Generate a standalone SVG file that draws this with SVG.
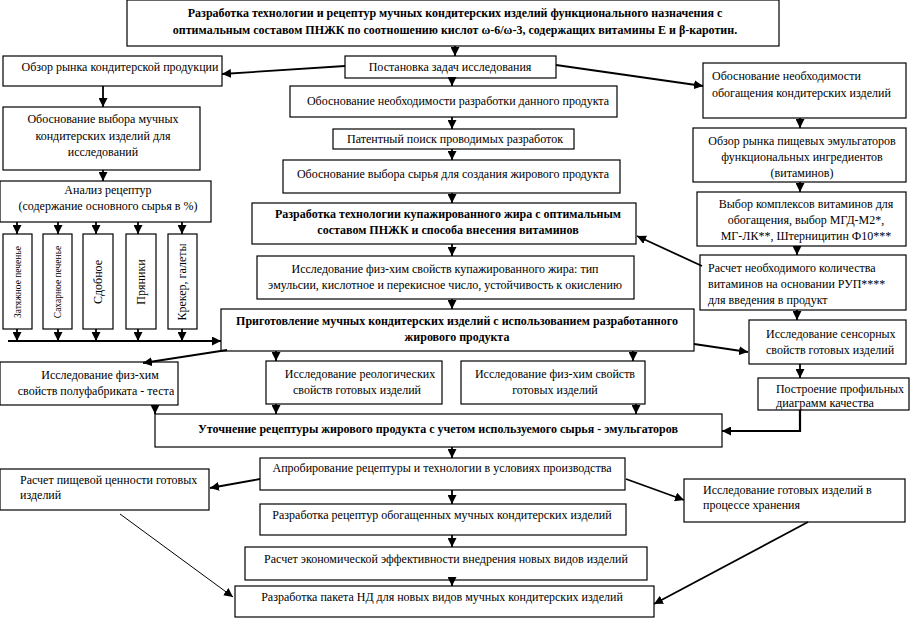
<svg xmlns="http://www.w3.org/2000/svg" width="915" height="620" viewBox="0 0 915 620">
<defs>
<marker id="ah" viewBox="0 0 10 10" refX="10" refY="5" markerWidth="9" markerHeight="9" markerUnits="userSpaceOnUse" orient="auto">
<path d="M0,0 L10,5 L0,10 z" fill="#000"/>
</marker>
<style>
.box{fill:#fff;stroke:#000;stroke-width:1.2}
.con line,.con polyline{stroke:#000;stroke-width:1.8;fill:none;marker-end:url(#ah)}
</style>
</defs>
<rect x="0" y="0" width="915" height="620" fill="#fff"/>
<g id="n-title"><rect class="box" x="127" y="0" width="652" height="46"/>
<text text-anchor="middle" font-weight="bold" font-family="Liberation Serif, serif" font-size="12" x="455" y="17">Разработка технологии и рецептур мучных кондитерских изделий функционального  назначения с</text>
<text text-anchor="middle" font-weight="bold" font-family="Liberation Serif, serif" font-size="12" x="455" y="34">оптимальным составом ПНЖК по соотношению кислот ω-6/ω-3, содержащих витамины Е и β-каротин.</text></g>

<g id="n-task"><rect class="box" x="345" y="56" width="211" height="22"/>
<text text-anchor="middle" font-family="Liberation Serif, serif" font-size="12" x="450" y="71">Постановка задач исследования</text></g>

<g id="n-market"><rect class="box" x="3" y="56" width="219" height="30"/>
<text text-anchor="middle" font-family="Liberation Serif, serif" font-size="12" x="120" y="71">Обзор рынка кондитерской продукции</text></g>

<g id="n-choice"><rect class="box" x="3" y="107" width="197" height="63"/>
<text text-anchor="middle" font-family="Liberation Serif, serif" font-size="12" x="103" y="123">Обоснование  выбора мучных</text>
<text text-anchor="middle" font-family="Liberation Serif, serif" font-size="12" x="103" y="140">кондитерских изделий для</text>
<text text-anchor="middle" font-family="Liberation Serif, serif" font-size="12" x="103" y="156">исследований</text></g>

<g id="n-analysis"><rect class="box" x="0" y="181" width="211" height="41"/>
<text text-anchor="middle" font-family="Liberation Serif, serif" font-size="12" x="108" y="194">Анализ рецептур</text>
<text text-anchor="middle" font-family="Liberation Serif, serif" font-size="12" x="108" y="210">(содержание основного сырья в %)</text></g>

<g id="n-v1"><rect class="box" x="3" y="234" width="29" height="95"/>
<text text-anchor="middle" font-family="Liberation Serif, serif" font-size="9.5" transform="translate(21,282) rotate(-90)">Затяжное печенье</text></g>
<g id="n-v2"><rect class="box" x="43" y="234" width="29" height="95"/>
<text text-anchor="middle" font-family="Liberation Serif, serif" font-size="9.5" transform="translate(61,282) rotate(-90)">Сахарное печенье</text></g>
<g id="n-v3"><rect class="box" x="83" y="234" width="30" height="95"/>
<text text-anchor="middle" font-family="Liberation Serif, serif" font-size="12" transform="translate(102,282) rotate(-90)">Сдобное</text></g>
<g id="n-v4"><rect class="box" x="126" y="234" width="30" height="95"/>
<text text-anchor="middle" font-family="Liberation Serif, serif" font-size="12" transform="translate(145,282) rotate(-90)">Пряники</text></g>
<g id="n-v5"><rect class="box" x="168" y="234" width="29" height="95"/>
<text text-anchor="middle" font-family="Liberation Serif, serif" font-size="12" transform="translate(186,282) rotate(-90)">Крекер, галеты</text></g>

<g id="n-enrich"><rect class="box" x="703" y="63" width="203" height="55"/>
<text font-family="Liberation Serif, serif" font-size="12" x="712" y="80">Обоснование необходимости</text>
<text font-family="Liberation Serif, serif" font-size="12" x="712" y="97">обогащения кондитерских изделий</text></g>

<g id="n-emul"><rect class="box" x="693" y="128" width="213" height="54"/>
<text text-anchor="middle" font-family="Liberation Serif, serif" font-size="12" x="802" y="145">Обзор рынка пищевых эмульгаторов</text>
<text text-anchor="middle" font-family="Liberation Serif, serif" font-size="12" x="802" y="161">функциональных ингредиентов</text>
<text text-anchor="middle" font-family="Liberation Serif, serif" font-size="12" x="802" y="177">(витаминов)</text></g>

<g id="n-vitsel"><rect class="box" x="697" y="192" width="209" height="54"/>
<text text-anchor="middle" font-family="Liberation Serif, serif" font-size="12" x="806" y="208">Выбор комплексов витаминов для</text>
<text text-anchor="middle" font-family="Liberation Serif, serif" font-size="12" x="806" y="224">обогащения, выбор МГД-М2*,</text>
<text text-anchor="middle" font-family="Liberation Serif, serif" font-size="12" x="806" y="240">МГ-ЛК**, Штерницитин Ф10***</text></g>

<g id="n-calc"><rect class="box" x="700" y="255" width="206" height="55"/>
<text font-family="Liberation Serif, serif" font-size="12" x="708" y="272">Расчет необходимого количества</text>
<text font-family="Liberation Serif, serif" font-size="12" x="708" y="288">витаминов на основании РУП****</text>
<text font-family="Liberation Serif, serif" font-size="12" x="708" y="304">для введения в продукт</text></g>

<g id="n-sensor"><rect class="box" x="749" y="320" width="157" height="44"/>
<text font-family="Liberation Serif, serif" font-size="12" x="766" y="338">Исследование сенсорных</text>
<text font-family="Liberation Serif, serif" font-size="12" x="766" y="354">свойств готовых изделий</text></g>

<g id="n-profile"><rect class="box" x="758" y="378" width="151" height="32"/>
<text font-family="Liberation Serif, serif" font-size="12" x="776" y="393" textLength="128" lengthAdjust="spacingAndGlyphs">Построение профильных</text>
<text font-family="Liberation Serif, serif" font-size="12" x="776" y="407" textLength="98" lengthAdjust="spacingAndGlyphs">диаграмм качества</text></g>

<g id="n-need"><rect class="box" x="290" y="86" width="327" height="31"/>
<text text-anchor="middle" font-family="Liberation Serif, serif" font-size="12" x="458" y="105">Обоснование  необходимости разработки данного продукта</text></g>

<g id="n-patent"><rect class="box" x="333" y="129" width="241" height="20"/>
<text text-anchor="middle" font-family="Liberation Serif, serif" font-size="12" x="455" y="143">Патентный поиск проводимых  разработок</text></g>

<g id="n-raw"><rect class="box" x="283" y="160" width="337" height="33"/>
<text text-anchor="middle" font-family="Liberation Serif, serif" font-size="12" x="453" y="178">Обоснование выбора сырья для создания жирового продукта</text></g>

<g id="n-fattech"><rect class="box" x="252" y="203" width="384" height="41"/>
<text text-anchor="middle" font-weight="bold" font-family="Liberation Serif, serif" font-size="12" x="448" y="218">Разработка технологии купажированного жира с оптимальным</text>
<text text-anchor="middle" font-weight="bold" font-family="Liberation Serif, serif" font-size="12" x="448" y="234">составом ПНЖК  и способа внесения витаминов</text></g>

<g id="n-fatprop"><rect class="box" x="257" y="256" width="377" height="43"/>
<text text-anchor="middle" font-family="Liberation Serif, serif" font-size="12" x="445" y="273">Исследование физ-хим свойств купажированного жира: тип</text>
<text text-anchor="middle" font-family="Liberation Serif, serif" font-size="12" x="445" y="289">эмульсии, кислотное и перекисное число, устойчивость к окислению</text></g>

<g id="n-prep"><rect class="box" x="221" y="309" width="473" height="42"/>
<text text-anchor="middle" font-weight="bold" font-family="Liberation Serif, serif" font-size="12" x="457" y="325">Приготовление мучных кондитерских изделий с использованием разработанного</text>
<text text-anchor="middle" font-weight="bold" font-family="Liberation Serif, serif" font-size="12" x="457" y="341">жирового продукта</text></g>

<g id="n-dough"><rect class="box" x="0" y="362" width="178" height="43"/>
<text text-anchor="middle" font-family="Liberation Serif, serif" font-size="12" x="100" y="379">Исследование физ-хим</text>
<text text-anchor="middle" font-family="Liberation Serif, serif" font-size="12" x="96" y="395">свойств полуфабриката - теста</text></g>

<g id="n-rheo"><rect class="box" x="266" y="361" width="176" height="43"/>
<text text-anchor="middle" font-family="Liberation Serif, serif" font-size="12" x="360" y="378">Исследование реологических</text>
<text text-anchor="middle" font-family="Liberation Serif, serif" font-size="12" x="357" y="394">свойств готовых изделий</text></g>

<g id="n-physchem"><rect class="box" x="461" y="361" width="184" height="43"/>
<text text-anchor="middle" font-family="Liberation Serif, serif" font-size="12" x="555" y="378">Исследование физ-хим свойств</text>
<text text-anchor="middle" font-family="Liberation Serif, serif" font-size="12" x="555" y="394">готовых изделий</text></g>

<g id="n-refine"><rect class="box" x="155" y="414" width="567" height="33"/>
<text text-anchor="middle" font-weight="bold" font-family="Liberation Serif, serif" font-size="12" x="438" y="433">Уточнение рецептуры жирового продукта с  учетом используемого сырья - эмульгаторов</text></g>

<g id="n-approb"><rect class="box" x="260" y="458" width="365" height="32"/>
<text text-anchor="middle" font-family="Liberation Serif, serif" font-size="12" x="442" y="472">Апробирование рецептуры и технологии в условиях производства</text></g>

<g id="n-nutr"><rect class="box" x="0" y="469" width="209" height="41"/>
<text font-family="Liberation Serif, serif" font-size="12" x="20" y="484">Расчет пищевой ценности готовых</text>
<text font-family="Liberation Serif, serif" font-size="12" x="20" y="499">изделий</text></g>

<g id="n-storage"><rect class="box" x="684" y="479" width="221" height="43"/>
<text font-family="Liberation Serif, serif" font-size="12" x="703" y="494">Исследование готовых изделий в</text>
<text font-family="Liberation Serif, serif" font-size="12" x="703" y="509">процессе хранения</text></g>

<g id="n-recipes"><rect class="box" x="260" y="504" width="366" height="31"/>
<text text-anchor="middle" font-family="Liberation Serif, serif" font-size="12" x="442" y="519">Разработка рецептур обогащенных мучных кондитерских изделий</text></g>

<g id="n-econ"><rect class="box" x="245" y="547" width="402" height="33"/>
<text text-anchor="middle" font-family="Liberation Serif, serif" font-size="12" x="446" y="563">Расчет экономической эффективности внедрения новых видов изделий</text></g>

<g id="n-nd"><rect class="box" x="235" y="586" width="419" height="31"/>
<text text-anchor="middle" font-family="Liberation Serif, serif" font-size="12" x="442" y="601">Разработка пакета НД для новых видов мучных кондитерских изделий</text></g>

<g id="connectors" class="con">
<line x1="455" y1="46" x2="455" y2="56"/>
<line x1="345" y1="66" x2="222" y2="74"/>
<line x1="556" y1="65" x2="703" y2="86"/>
<line x1="452" y1="78" x2="452" y2="86"/>
<line x1="452" y1="117" x2="452" y2="129"/>
<line x1="452" y1="149" x2="452" y2="160"/>
<line x1="452" y1="193" x2="452" y2="203"/>
<line x1="452" y1="244" x2="452" y2="256"/>
<line x1="452" y1="299" x2="452" y2="309"/>
<line x1="103" y1="86" x2="103" y2="107"/>
<line x1="103" y1="170" x2="103" y2="181"/>
<line x1="17" y1="222" x2="17" y2="234"/>
<line x1="58" y1="222" x2="58" y2="234"/>
<line x1="96" y1="222" x2="96" y2="234"/>
<line x1="138" y1="222" x2="138" y2="234"/>
<line x1="182" y1="222" x2="182" y2="234"/>
<line x1="17" y1="329" x2="17" y2="341"/>
<line x1="58" y1="329" x2="58" y2="341"/>
<line x1="96" y1="329" x2="96" y2="341"/>
<line x1="138" y1="329" x2="138" y2="341"/>
<line x1="182" y1="329" x2="182" y2="341"/>
<line x1="8" y1="341" x2="221" y2="341" style="stroke-width:2.2"/>
<line x1="800" y1="118" x2="800" y2="128"/>
<line x1="800" y1="182" x2="800" y2="192"/>
<line x1="797" y1="246" x2="797" y2="255"/>
<line x1="702" y1="266" x2="637" y2="236"/>
<line x1="797" y1="310" x2="797" y2="320"/>
<line x1="694" y1="344" x2="748" y2="352"/>
<line x1="800" y1="364" x2="800" y2="378"/>
<polyline points="800,410 800,431 722,431" style="stroke-width:2.2"/>
<line x1="227" y1="350" x2="143" y2="363"/>
<line x1="276" y1="351" x2="276" y2="361"/>
<line x1="633" y1="351" x2="633" y2="361"/>
<line x1="155" y1="405" x2="155" y2="414"/>
<line x1="276" y1="404" x2="276" y2="414"/>
<line x1="636" y1="404" x2="636" y2="414"/>
<line x1="452" y1="447" x2="452" y2="458"/>
<line x1="260" y1="479" x2="210" y2="488"/>
<line x1="626" y1="479" x2="684" y2="500"/>
<line x1="452" y1="490" x2="452" y2="504"/>
<line x1="452" y1="535" x2="452" y2="547"/>
<line x1="452" y1="580" x2="452" y2="586"/>
<line x1="120" y1="514" x2="233" y2="597" style="stroke-width:1"/>
<line x1="808" y1="522" x2="654" y2="604"/>
</g>
</svg>
